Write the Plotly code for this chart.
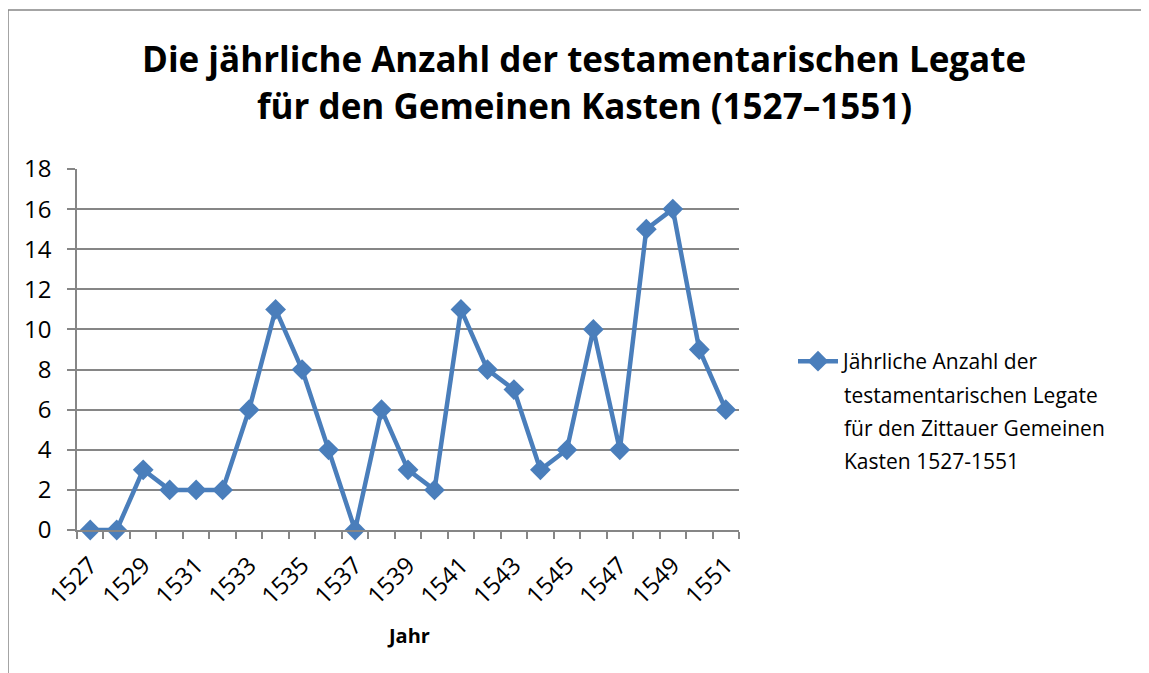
import plotly.graph_objects as go

years = list(range(1527, 1552))
legate = [0, 0, 3, 2, 2, 2, 6, 11, 8, 4, 0, 6, 3, 2, 11, 8, 7, 3, 4, 10, 4, 15, 16, 9, 6]
label_years = years[::2]

title_lines = ['Die jährliche Anzahl der testamentarischen Legate',
               'für den Gemeinen Kasten (1527–1551)']
legend_lines = ['Jährliche Anzahl der', 'testamentarischen Legate',
                'für den Zittauer Gemeinen', 'Kasten 1527-1551']

# figure size (page adds an 8px body margin)
W, H = 1141, 665
L, R, T, B = 69, 731, 161, 522
pw, ph = R - L, B - T


def px_x(v):
    return (v - L) / pw


def px_y(v):
    return (B - v) / ph


blue = '#4A7EBB'
grey = '#868686'
font = 'Open Sans, Calibri, sans-serif'

fig = go.Figure()
fig.add_trace(go.Scatter(
    x=years, y=legate, mode='lines+markers', name=legend_lines[0],
    line=dict(color=blue, width=4.5),
    marker=dict(symbol='diamond', size=16, color=blue),
    cliponaxis=False,
))

annotations = [
    dict(text='<b>%s</b>' % title_lines[0], x=px_x(576), y=px_y(50)),
    dict(text='<b>%s</b>' % title_lines[1], x=px_x(576), y=px_y(98)),
]
for a in annotations:
    a.update(xanchor='center', font=dict(size=35, family=font, color='black'))
annotations.append(dict(text='<b>Jahr</b>', x=0.5, y=px_y(627), xanchor='center',
                        font=dict(size=20, family=font, color='black')))
# remaining legend lines, spaced like the original
for i, line in enumerate(legend_lines[1:]):
    annotations.append(dict(text=line, x=px_x(834), y=px_y(354 + 33 * (i + 1)), xanchor='left',
                            font=dict(size=21, family=font, color='black')))
for a in annotations:
    a.update(xref='paper', yref='paper', yanchor='middle', showarrow=False)

fig.update_layout(
    width=W, height=H,
    margin=dict(l=L, r=W - R, t=T, b=H - B),
    plot_bgcolor='white', paper_bgcolor='white',
    font=dict(family=font, color='black'),
    annotations=annotations,
    showlegend=True,
    legend=dict(
        x=px_x(785), xanchor='left', y=px_y(333), yanchor='top',
        valign='top', font=dict(size=21, family=font),
        bgcolor='rgba(0,0,0,0)', itemwidth=40,
    ),
    shapes=[dict(
        type='rect', xref='paper', yref='paper',
        x0=px_x(0), x1=px_x(1200), y0=px_y(2), y1=px_y(720),
        line=dict(color=grey, width=1.5), fillcolor='rgba(0,0,0,0)', layer='below',
    )],
)

fig.update_xaxes(
    range=[1526.5, 1551.5], tickmode='array', tickvals=label_years,
    ticktext=[str(y) for y in label_years], tickangle=-45,
    ticks='', showgrid=False, zeroline=False,
    showline=True, linecolor=grey, linewidth=1.5,
    tickfont=dict(size=24, family=font), ticklabelstandoff=10,
    minor=dict(tick0=1526.5, dtick=1, ticks='outside', ticklen=7, tickcolor=grey, tickwidth=1.5, showgrid=False),
)
fig.update_yaxes(
    range=[0, 18], dtick=2, tick0=0,
    ticks='outside', ticklen=8, tickcolor=grey, tickwidth=1.5,
    showgrid=True, gridcolor=grey, gridwidth=1.5, zeroline=False,
    showline=True, linecolor=grey, linewidth=1.5,
    tickfont=dict(size=24, family=font), ticklabelstandoff=11,
)

fig.write_html('out.html')
